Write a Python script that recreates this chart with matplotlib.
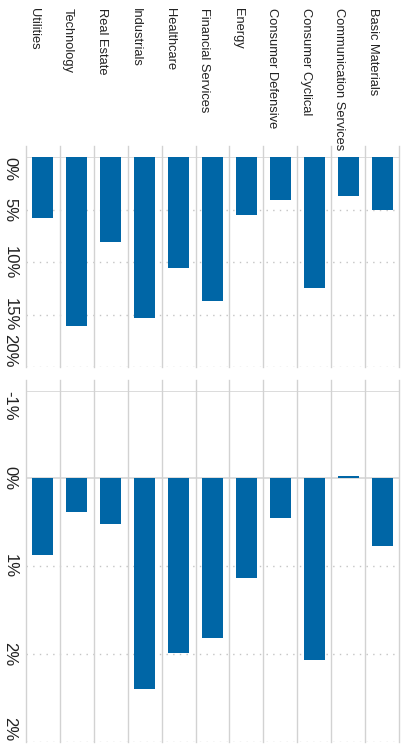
import matplotlib
matplotlib.use("Agg")
import matplotlib.pyplot as plt
from matplotlib.transforms import blended_transform_factory
import numpy as np

# Sector data
sectors = ["Utilities", "Technology", "Real Estate", "Industrials", "Healthcare",
           "Financial Services", "Energy", "Consumer Defensive", "Consumer Cyclical",
           "Communication Services", "Basic Materials"]
weight_pct = [5.75, 16.07, 8.10, 15.28, 10.57, 13.69, 5.52, 4.07, 12.45, 3.69, 5.05]
contribution_pct = [0.65, 0.29, 0.39, 1.80, 1.49, 1.36, 0.85, 0.34, 1.55, -0.02, 0.58]
weight_ticks = [0, 5, 10, 15, 20]
contribution_ticks = [-0.75, 0, 0.75, 1.5, 2.25]

BAR = "#0066A6"
GRID = "#d2d2d2"
TEXT = "#222222"

plt.rcParams["font.family"] = ["Liberation Sans", "DejaVu Sans"]

W, H = 402, 745
fig = plt.figure(figsize=(W / 100, H / 100), dpi=100)


def px_axes(x0, y0, x1, y1):
    return fig.add_axes([x0 / W, 1 - y1 / H, (x1 - x0) / W, (y1 - y0) / H])


ax_top = px_axes(25.7, 157.3, 399.3, 367.3)
ax_bot = px_axes(25.7, 390.7, 399.3, 741.7)

x = np.arange(len(sectors))


def draw_panel(ax, values, ticks, solid_at):
    ax.set_xlim(-0.5, len(sectors) - 0.5)
    ax.set_ylim(ticks[-1], ticks[0])  # values grow downward
    for s in ax.spines.values():
        s.set_visible(False)

    # horizontal reference lines
    for t in ticks:
        if t in solid_at:
            ax.axhline(t, color=GRID, lw=1.1, zorder=1)
        else:
            ax.axhline(t, color="#c4c4c4", lw=1.0, ls=(0, (1, 3.8)), zorder=1)

    # category separators, poking slightly past the top edge
    h_px = ax.get_position().height * H
    for b in np.arange(-0.5, len(sectors), 1.0):
        ax.axvline(b, ymin=0, ymax=1 + 11 / h_px, color=GRID, lw=1.0,
                   clip_on=False, zorder=1)

    ax.bar(x, values, width=0.62, color=BAR, zorder=3)

    ax.set_xticks([])
    ax.set_yticks(ticks)
    ax.set_yticklabels([f"{t:.0f}%" for t in ticks])
    ax.tick_params(axis="y", length=0, pad=6, labelsize=12,
                   labelcolor=TEXT, labelrotation=-90)
    labels = ax.get_yticklabels()
    for lab in labels:
        lab.set_va("center")
    labels[0].set_va("top")
    labels[-1].set_va("bottom")


draw_panel(ax_top, weight_pct, weight_ticks, solid_at=[0])
draw_panel(ax_bot, contribution_pct, contribution_ticks, solid_at=[-0.75, 0])

# sector names above the first panel
trans = blended_transform_factory(ax_top.transData, fig.transFigure)
for i, name in enumerate(sectors):
    ax_top.text(i - 0.35, 1 - 8.5 / H, name, rotation=-90, rotation_mode="anchor",
                ha="left", va="baseline", fontsize=9.3, color=TEXT,
                transform=trans, clip_on=False)

fig.savefig("out.png", dpi=100)
